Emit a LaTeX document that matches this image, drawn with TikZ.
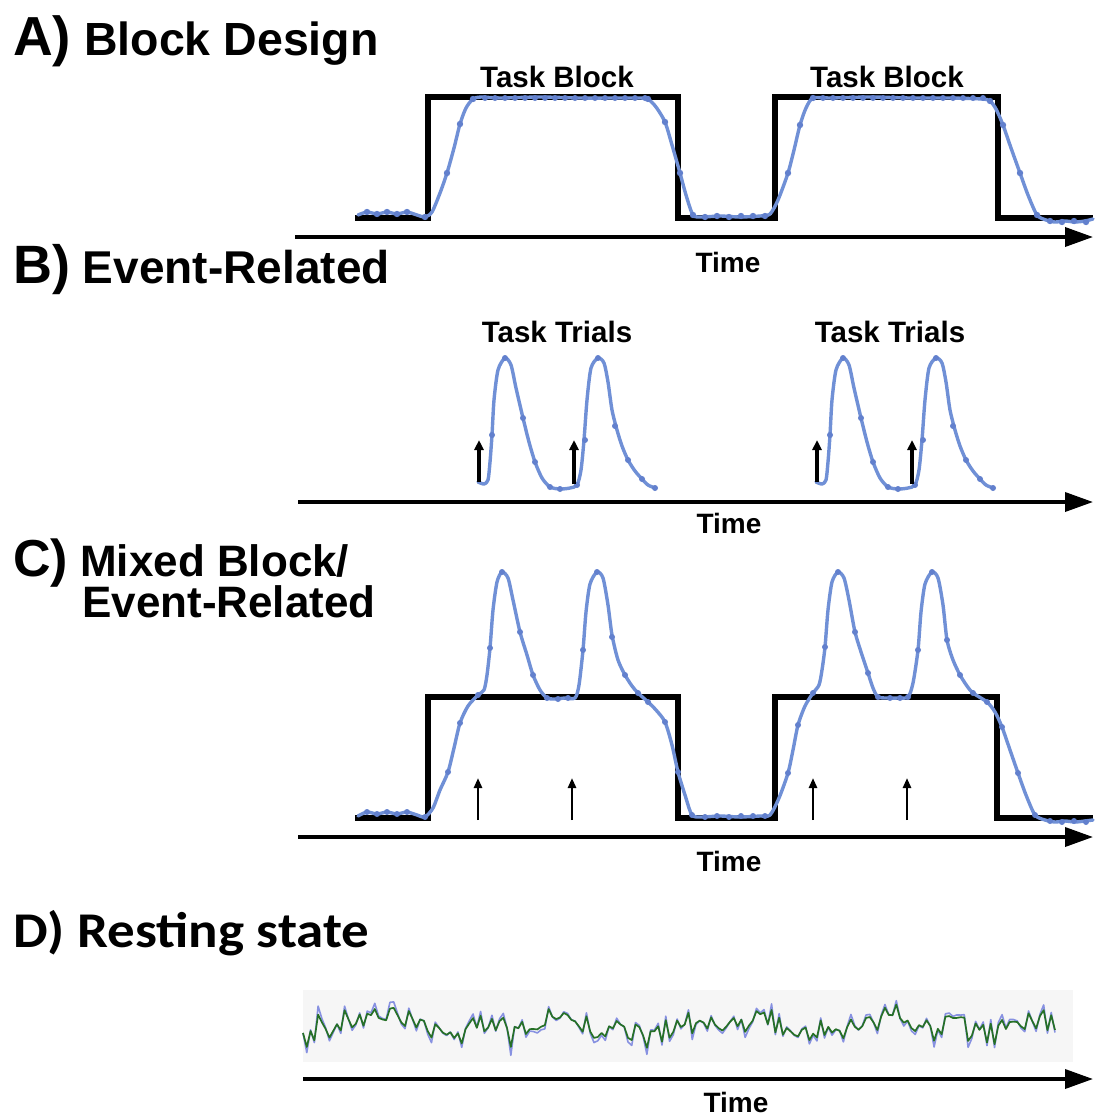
\documentclass[tikz,border=0pt]{standalone}
\usepackage{fontspec}
\setmainfont{Liberation Sans}
\newfontfamily\calfont{Carlito}
\usetikzlibrary{arrows.meta}
\definecolor{hrfblue}{RGB}{112,144,214}
\definecolor{hrfdot}{RGB}{98,128,205}
\definecolor{restgreen}{RGB}{38,112,38}
\definecolor{restblue}{RGB}{135,145,225}
\definecolor{restbg}{RGB}{246,246,246}
\begin{document}
\begin{tikzpicture}[x=1pt,y=-1pt,
  title/.style={inner sep=0pt},
  sublabel/.style={font=\fontsize{29.5}{32}\selectfont\bfseries, inner sep=0pt},
  timelabel/.style={font=\fontsize{28}{30}\selectfont\bfseries, inner sep=0pt},
  axisline/.style={line width=3.6pt, -{Triangle[length=28pt,width=19pt]}},
  blockline/.style={line width=5.5pt, line join=miter, black},
  hrfline/.style={line width=3.4pt, hrfblue, line join=round, line cap=round},
  onsetB/.style={line width=3.4pt, -{Triangle[length=10pt,width=9pt]}},
  onsetC/.style={line width=2.5pt, -{Triangle[length=10pt,width=8pt]}}
]
\useasboundingbox (0,0) rectangle (1095,1117);
\fill[white] (0,0) rectangle (1095,1117);

% ---------------- Titles ----------------
\node[title, anchor=base west, font=\fontsize{46.5}{50}\selectfont\bfseries] (tA) at (13,55) {{\fontsize{55}{55}\selectfont A)} Block Design};
\node[title, anchor=base west, font=\fontsize{46}{50}\selectfont\bfseries] (tB) at (13,283) {{\fontsize{54}{54}\selectfont B)} Event-Related};
\node[title, anchor=base west, font=\fontsize{44}{50}\selectfont\bfseries] (tC1) at (13,576) {{\fontsize{52}{52}\selectfont C)} Mixed Block/};
\node[title, anchor=base west, font=\fontsize{44}{50}\selectfont\bfseries] (tC2) at (82,617) {Event-Related};
\node[inner sep=0pt, anchor=base west, font=\calfont\fontsize{50}{54}\selectfont\bfseries] (tD) at (13,947) {\scalebox{1.1}[1]{D) Resting state}};

% ---------------- Panel A ----------------
\node[sublabel, anchor=base] (lA1) at (557,87) {Task Block};
\node[sublabel, anchor=base] (lA2) at (887,87) {Task Block};
\draw[blockline] (355,218) -- (428,218) -- (428,97) -- (678,97) -- (678,218) -- (775,218) -- (775,97) -- (998,97) -- (998,218) -- (1093,218);
\draw[hrfline] plot[smooth, tension=0.45] coordinates {
 (358,215) (367,212) (377,214) (387,212) (397,214) (407,212) (417,215) (425,217)
 (432,212) (440,193) (447,173) (454,148) (460,124) (466,108) (473,99) (481,97)
 (500,98) (540,97) (580,98) (620,98) (640,98) (648,99) (656,107) (665,122) (672,145)
 (680,173) (686,195) (693,215) (702,217) (720,216) (740,217) (760,216) (770,214)
 (778,200) (788,173) (794,150) (800,125) (806,108) (813,98) (830,98) (870,97) (910,98)
 (950,98) (982,99) (990,101) (996,109) (1003,125) (1011,148) (1020,173) (1028,195)
 (1037,215) (1046,220) (1055,222) (1065,221) (1075,222) (1085,221) (1093,219)};
\foreach \p in {(367,212),(377,214),(387,212),(397,214),(407,212),(425,217),(447,173),(460,124),(473,99),
 (648,99),(665,122),(680,173),(693,215),(705,217),(717,216),(729,217),(741,216),(753,216),(765,216),
 (788,173),(800,125),(813,98),(990,101),(1003,125),(1020,173),(1037,215),(1050,221),(1062,222),(1074,221),(1086,222)}
  \fill[hrfdot] \p circle[radius=3.2pt];
\foreach \x in {485,495,...,645} \fill[hrfdot] (\x,98) circle[radius=3pt];
\foreach \x in {823,833,...,985} \fill[hrfdot] (\x,98) circle[radius=3pt];
\draw[axisline] (295,237) -- (1093,237);
\node[timelabel, anchor=base] (timeA) at (728,272) {Time};

% ---------------- Panel B ----------------
\node[sublabel, anchor=base] (lB1) at (557,342) {Task Trials};
\node[sublabel, anchor=base] (lB2) at (890,342) {Task Trials};
\foreach \sh in {0,338}{
 \begin{scope}[xshift=\sh pt]
 \draw[hrfline] plot[smooth, tension=0.45] coordinates {
  (478,482) (484,484) (488,480) (490,462) (492,435) (494,400) (498,370) (505,358) (511,365)
  (516,388) (523,418) (529,442) (535,462) (542,478) (550,487) (560,489) (570,488) (577,485)
  (581,470) (584,440) (587,400) (591,368) (598,358) (604,363) (608,382) (612,410) (617,430)
  (622,446) (628,460) (635,471) (642,479) (648,485) (655,488)};
 \foreach \p in {(492,435),(505,358),(523,418),(535,462),(550,487),(560,489),(577,485),(585,440),(598,358),(615,426),(628,460),(642,479),(655,488)}
  \fill[hrfdot] \p circle[radius=3pt];
 \draw[onsetB] (479,482) -- (479,440);
 \draw[onsetB] (574,484) -- (574,440);
 \end{scope}}
\draw[axisline] (298,502) -- (1093,502);
\node[timelabel, anchor=base] (timeB) at (729,533) {Time};

% ---------------- Panel C ----------------
\draw[blockline] (355,818) -- (428,818) -- (428,697) -- (678,697) -- (678,818) -- (775,818) -- (775,697) -- (997,697) -- (997,818) -- (1093,818);
\draw[hrfline] plot[smooth, tension=0.45] coordinates {
 (358,816) (367,812) (377,814) (387,812) (397,814) (407,812) (417,815) (425,817)
 (433,808) (440,790) (448,772) (454,748) (460,723) (468,706) (478,695)
 (484,690) (487,675) (490,648) (493,610) (497,582) (502,572) (508,578) (513,600) (520,632)
 (527,655) (533,675) (540,690) (547,698) (555,699) (565,698) (575,698)
 (579,685) (583,650) (586,612) (590,584) (597,572) (603,578) (608,605) (612,635) (618,660)
 (625,675) (632,686) (638,693) (648,702) (656,710) (665,722) (672,745) (678,772) (685,795)
 (692,815) (702,817) (720,816) (740,817) (760,816) (770,815)
 (779,798) (788,773) (793,750) (798,725) (805,706) (813,693)
 (819,685) (822,670) (825,647) (828,610) (832,582) (838,572) (844,578) (849,600) (855,632)
 (862,655) (868,673) (873,688) (878,697) (888,698) (898,698) (908,697)
 (913,683) (918,650) (921,612) (925,584) (932,572) (938,578) (943,605) (947,640) (953,660)
 (960,675) (967,686) (973,693) (987,702) (995,712) (1002,727) (1010,750) (1018,773)
 (1026,795) (1035,815) (1045,820) (1055,822) (1065,821) (1075,822) (1085,821) (1093,820)};
\foreach \p in {(367,812),(377,814),(387,812),(397,814),(407,812),(425,817),(448,772),(460,723),(478,695),
 (490,648),(502,572),(520,632),(533,675),(547,698),(558,699),(568,698),(583,650),(597,572),(612,637),
 (625,675),(638,693),(648,702),(665,722),(678,772),(692,815),(705,817),(717,816),(729,817),(741,816),
 (753,816),(765,816),(788,773),(798,725),(813,693),(825,647),(838,572),(855,632),(868,673),(878,697),
 (890,698),(900,698),(908,697),(918,650),(932,572),(947,640),(960,675),(973,693),(987,702),(1002,727),
 (1018,773),(1035,815),(1050,821),(1062,822),(1074,821),(1086,822)}
  \fill[hrfdot] \p circle[radius=3pt];
\foreach \xx in {478,572,813,907} \draw[onsetC] (\xx,820) -- (\xx,778);
\draw[axisline] (298,837) -- (1093,837);
\node[timelabel, anchor=base] (timeC) at (729,871) {Time};

% ---------------- Panel D ----------------
\fill[restbg] (303,990) rectangle (1073,1062);
\pgfmathsetseed{4711}
\draw[restblue, line width=1.6pt, line join=round] plot[samples=200, domain=303:1055]
  (\x, {1025 - 6*sin(\x*2.1) - 4*sin(\x*5.3+40) + 15*rand + 14*(rand)^5});
\pgfmathsetseed{4711}
\draw[restgreen, line width=1.7pt, line join=round] plot[samples=200, domain=303:1055]
  (\x, {1025 - 6*sin(\x*2.1) - 4*sin(\x*5.3+40) + 11*rand + 9*(rand)^5});
\draw[axisline] (303,1079) -- (1093,1079);
\node[timelabel, anchor=base] (timeD) at (736,1112) {Time};
\end{tikzpicture}
\end{document}
